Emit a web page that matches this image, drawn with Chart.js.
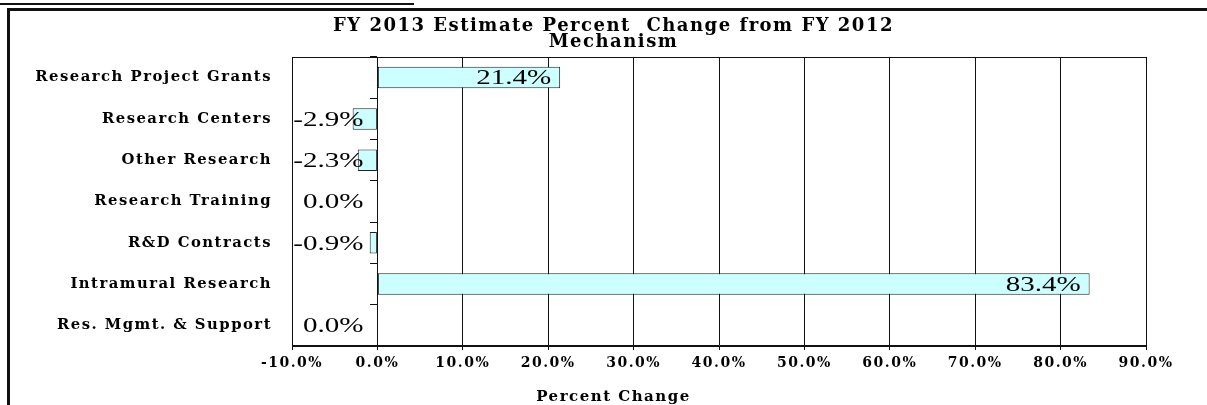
<!DOCTYPE html>
<html><head><meta charset="utf-8">
<script src="https://cdn.jsdelivr.net/npm/chart.js@4.4.1/dist/chart.umd.min.js"></script>
<style>
html,body{margin:0;padding:0;background:#fff;width:1207px;height:405px;overflow:hidden}
#wrap{position:relative;width:1207px;height:405px}
canvas{position:absolute;left:0;top:0}
.ln{position:absolute;background:#111}
</style></head><body>
<div id="wrap">
<div class="ln" style="left:0;top:3px;width:414px;height:2px"></div>
<div class="ln" style="left:7px;top:8px;width:1200px;height:3px"></div>
<div class="ln" style="left:7px;top:8px;width:3px;height:397px"></div>
<canvas id="c" width="1207" height="405"></canvas>
</div>
<script>
const categories = ['Research Project Grants','Research Centers','Other Research','Research Training','R&D Contracts','Intramural Research','Res. Mgmt. & Support'];
const percentChange = [21.4, -2.9, -2.3, 0.0, -0.9, 83.4, 0.0];
const xMin = -10, xMax = 90, xStep = 10;
const titleLines = ['FY 2013 Estimate Percent  Change from FY 2012', 'Mechanism'];
const xAxisTitle = 'Percent Change';

const serif = 'DejaVu Serif';
const fmtPct = v => Number(v).toFixed(1) + '%';
const SPACING = '1.5px';

const spacingPlugin = {
  id: 'spacing',
  beforeUpdate(c) { c.ctx.letterSpacing = SPACING; },
  beforeLayout(c) { c.ctx.letterSpacing = SPACING; },
  beforeDraw(c) { c.ctx.letterSpacing = SPACING; }
};

const borderPlugin = {
  id: 'plotBorder',
  afterDatasetsDraw(c) {
    const ctx = c.ctx, a = c.chartArea;
    ctx.save();
    ctx.strokeStyle = '#111';
    ctx.lineWidth = 1;
    ctx.strokeRect(Math.round(a.left) + 0.5, Math.round(a.top) + 0.5, Math.round(a.right - a.left), Math.round(a.bottom - a.top));
    ctx.restore();
  }
};

const labelPlugin = {
  id: 'barLabels',
  afterDatasetsDraw(c) {
    const ctx = c.ctx, meta = c.getDatasetMeta(0), xs = c.scales.x;
    const zero = xs.getPixelForValue(0);
    ctx.save();
    ctx.letterSpacing = '0px';
    ctx.font = '22px "Liberation Serif"';
    ctx.fillStyle = '#000';
    ctx.textAlign = 'right';
    ctx.textBaseline = 'middle';
    meta.data.forEach((bar, i) => {
      const v = percentChange[i];
      const ax = v > 0 ? bar.x - 9 : zero - 14;
      ctx.save();
      ctx.translate(ax, bar.y + 1);
      ctx.scale(1.32, 1);
      ctx.fillText(fmtPct(v), 0, 0);
      ctx.restore();
    });
    ctx.restore();
  }
};

new Chart(document.getElementById('c'), {
  type: 'bar',
  data: {
    labels: categories,
    datasets: [{
      data: percentChange,
      backgroundColor: '#ccffff',
      borderColor: '#222',
      borderWidth: 1,
      borderSkipped: false,
      barPercentage: 0.52,
      categoryPercentage: 1,
      xAxisID: 'x',
      yAxisID: 'y'
    }]
  },
  options: {
    indexAxis: 'y',
    responsive: false,
    animation: false,
    devicePixelRatio: 1,
    layout: { padding: { left: 20, right: 0, top: 0, bottom: 0 } },
    plugins: {
      legend: { display: false },
      tooltip: { enabled: false },
      title: {
        display: true, text: titleLines, color: '#000',
        font: { family: serif, weight: 'bold', size: 18, lineHeight: 0.86 },
        padding: { top: 19, bottom: 7 }
      },
      subtitle: {
        display: true, position: 'bottom', text: xAxisTitle, color: '#000',
        font: { family: serif, weight: 'bold', size: 15, lineHeight: 1 },
        padding: { top: 7, bottom: 0 }
      }
    },
    scales: {
      x: {
        type: 'linear', position: 'bottom', min: xMin, max: xMax,
        ticks: { stepSize: xStep, callback: v => fmtPct(v), color: '#000', font: { family: serif, weight: 'bold', size: 14 }, padding: 5, maxRotation: 0, autoSkip: false },
        grid: { color: '#111', lineWidth: 1, tickLength: 4, drawOnChartArea: true },
        border: { display: true, color: '#111' },
        afterFit(s) { s.height = 37; }
      },
      y: {
        type: 'category', position: 'left', offset: true,
        grid: { display: false, offset: true },
        border: { display: false },
        ticks: { color: '#000', font: { family: serif, weight: 'bold', size: 14.8 }, padding: 12 },
        afterFit(s) { s.width = 272; }
      },
      y0: {
        type: 'category', position: { x: 0 }, offset: true, display: true,
        grid: { display: true, offset: true, drawOnChartArea: false, drawTicks: true, tickLength: 7, color: '#111' },
        border: { display: false },
        ticks: { display: false }
      },
      yr: {
        type: 'category', position: 'right', display: true,
        grid: { display: false }, border: { display: false }, ticks: { display: false },
        afterFit(s) { s.width = 61; }
      }
    }
  },
  plugins: [spacingPlugin, borderPlugin, labelPlugin]
});
</script>
</body></html>
